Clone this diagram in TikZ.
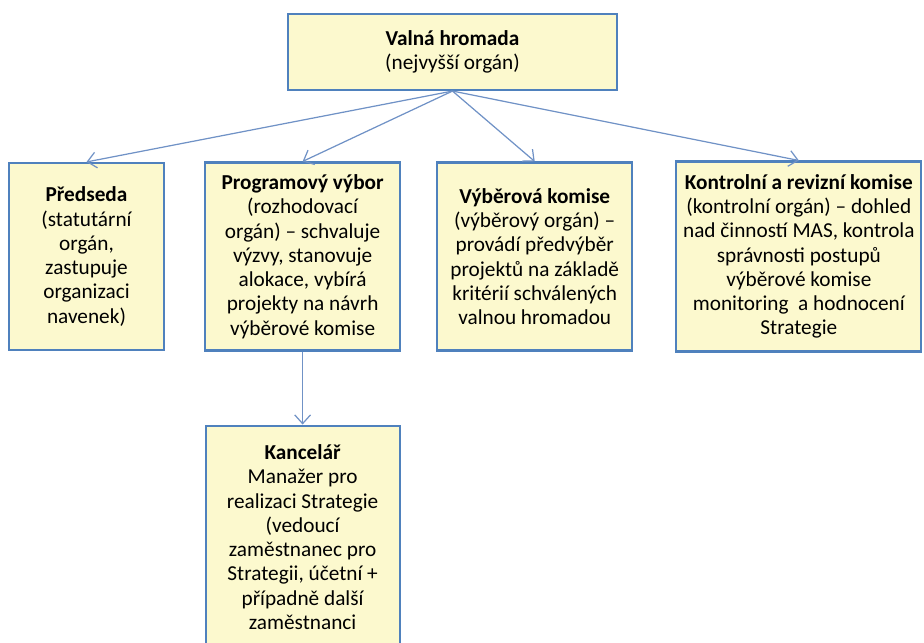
\documentclass[tikz,border=0pt]{standalone}
\usepackage{fontspec}
\setmainfont{Carlito}
\usepackage{tikz}
\usetikzlibrary{arrows.meta,positioning}
\definecolor{boxfill}{RGB}{252,249,206}
\definecolor{boxline}{RGB}{79,129,189}
\definecolor{arrowline}{RGB}{112,146,198}
\tikzstyle{BOX} = [rectangle, draw=boxline, line width=1.2pt, fill=boxfill, align=center, inner xsep=0pt, font=\fontsize{12.1}{13.8}\selectfont]
\tikzstyle{ARROW} = [draw=arrowline, line width=0.7pt, -{Straight Barb[length=5pt,width=9pt]}]

\begin{document}
\begin{tikzpicture}
% Define
\useasboundingbox (0,0) rectangle (18.48,-12.84);
\clip (0,0) rectangle (18.48,-12.84);
\tikzstyle{BOX_1} = [BOX, minimum width=6.58cm, minimum height=1.52cm]
\tikzstyle{BOX_2} = [BOX, minimum width=3.1cm, minimum height=3.74cm]
\tikzstyle{BOX_3} = [BOX, minimum width=3.9cm, minimum height=3.76cm]
\tikzstyle{BOX_4} = [BOX, minimum width=4.9cm, minimum height=3.8cm]
\tikzstyle{BOX_5} = [BOX, minimum width=3.88cm, minimum height=4.46cm]
% Place node
\node [BOX_1] (VALNA) at (9.05,-1.04) {\textbf{Valná hromada}\\ (nejvyšší orgán)};
\node [BOX_2] (PREDSEDA) at (1.73,-5.13) {\textbf{Předseda}\\ (statutární\\ orgán,\\ zastupuje\\ organizaci\\ navenek)};
\node [BOX_3, right=0.78cm of PREDSEDA] (PROGRAM) {\textbf{Programový výbor}\\ (rozhodovací\\ orgán) – schvaluje\\ výzvy, stanovuje\\ alokace, vybírá\\ projekty na návrh\\ výběrové komise};
\node [BOX_3, right=0.70cm of PROGRAM] (VYBER) {\textbf{Výběrová komise}\\ (výběrový orgán) –\\ provádí předvýběr\\ projektů na základě\\ kritérií schválených\\ valnou hromadou};
\node [BOX_4, right=0.84cm of VYBER] (KONTROLA) {\textbf{Kontrolní a\ revizní komise}\\ (kontrolní orgán) – dohled\\ nad činností MAS, kontrola\\ správnosti postupů\\ výběrové komise\\ monitoring\ \ a hodnocení\\ Strategie};
%
\node [BOX_5, below=1.46cm of PROGRAM] (KANCELAR) {\textbf{Kancelář}\\ Manažer pro\\ realizaci Strategie\\ (vedoucí\\ zaměstnanec pro\\ Strategii, účetní +\\ případně další\\ zaměstnanci};
% LINES and ARROWS
\path [ARROW] (VALNA.south) -- (PREDSEDA.north);
\path [ARROW] (VALNA.south) -- (PROGRAM.north);
\path [ARROW] (VALNA.south) -- (VYBER.north);
\path [ARROW] (VALNA.south) -- (KONTROLA.north);
\path [ARROW] (PROGRAM) -- (KANCELAR);
\end{tikzpicture}
\end{document}
